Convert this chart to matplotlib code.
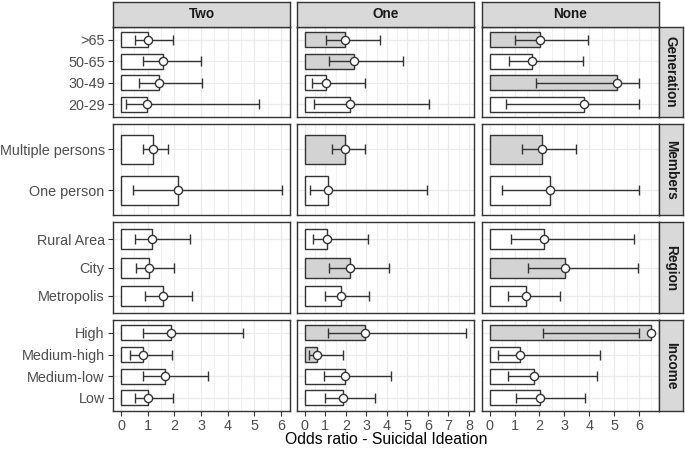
import matplotlib
matplotlib.use("Agg")
import matplotlib.pyplot as plt
import numpy as np

plt.rcParams['font.family'] = ['Liberation Sans', 'DejaVu Sans']

# ---------------- data ----------------
columns = ["Two", "One", "None"]
groups = ["Generation", "Members", "Region", "Income"]
categories = [">65", "50-65", "30-49", "20-29",
              "Multiple persons", "One person",
              "Rural Area", "City", "Metropolis",
              "High", "Medium-high", "Medium-low", "Low"]
group_of = ["Generation"] * 4 + ["Members"] * 2 + ["Region"] * 3 + ["Income"] * 4

or_two = [1.00, 1.58, 1.43, 0.98, 1.20, 2.15, 1.17, 1.06, 1.57, 1.88, 0.84, 1.64, 1.02]
lo_two = [0.53, 0.84, 0.68, 0.20, 0.84, 0.43, 0.53, 0.57, 0.91, 0.82, 0.35, 0.84, 0.53]
hi_two = [1.94, 3.00, 3.02, 5.16, 1.75, 6.03, 2.59, 1.98, 2.66, 4.56, 1.91, 3.26, 1.95]
sig_two = [0, 0, 0, 0, 0, 0, 0, 0, 0, 0, 0, 0, 0]

or_one = [1.96, 2.40, 1.02, 2.19, 1.96, 1.14, 1.09, 2.21, 1.75, 2.92, 0.59, 1.95, 1.84]
lo_one = [1.02, 1.19, 0.36, 0.44, 1.33, 0.28, 0.39, 1.20, 0.99, 1.14, 0.23, 0.94, 0.98]
hi_one = [3.67, 4.81, 2.92, 6.06, 2.92, 5.94, 3.08, 4.12, 3.12, 7.84, 1.85, 4.20, 3.42]
sig_one = [1, 1, 0, 0, 1, 0, 0, 1, 0, 1, 1, 0, 0]

or_none = [2.01, 1.69, 5.12, 3.80, 2.10, 2.42, 2.20, 3.04, 1.45, 6.47, 1.22, 1.77, 2.01]
lo_none = [1.02, 0.79, 1.87, 0.67, 1.30, 0.50, 0.86, 1.54, 0.74, 2.15, 0.32, 0.74, 1.05]
hi_none = [3.95, 3.75, 6.01, 6.01, 3.47, 6.01, 5.81, 5.96, 2.83, 6.00, 4.44, 4.32, 3.85]
sig_none = [1, 0, 1, 0, 1, 0, 0, 1, 0, 1, 0, 0, 0]

x_ticks = {"Two": list(range(0, 7)), "One": list(range(0, 9)), "None": list(range(0, 7))}
x_title = "Odds ratio - Suicidal Ideation"

series = {
    "Two": (or_two, lo_two, hi_two, sig_two),
    "One": (or_one, lo_one, hi_one, sig_one),
    "None": (or_none, lo_none, hi_none, sig_none),
}

# ---------------- layout (pixels) ----------------
W, H = 685, 453
fig = plt.figure(figsize=(W / 100, H / 100), dpi=100)
fig.patch.set_facecolor("white")

col_left = [113, 296.7, 481.7]
col_w = 177
row_top0 = 26.7
row_h = 90.75
row_gap = 7.0
strip_h = 24.5
rstrip_w = 24.3

dark = "#333333"
grid_c = "#EBEBEB"
gray_fill = "#D3D3D3"
txt_c = "#4D4D4D"


def px_axes(x, y_top, w, h):
    return fig.add_axes([x / W, 1 - (y_top + h) / H, w / W, h / H])


for ci, col in enumerate(columns):
    vals, los, his, sigs = series[col]
    xmax = max(max(vals), max(his))
    pad = 0.05 * xmax
    xlim = (-pad, xmax + pad)
    for gi, grp in enumerate(groups):
        idx = [i for i, g in enumerate(group_of) if g == grp]
        n = len(idx)
        top = row_top0 + gi * (row_h + row_gap)
        ax = px_axes(col_left[ci], top, col_w, row_h)
        ax.set_facecolor("white")
        ypos = [n - k for k in range(n)]
        ax.set_xlim(*xlim)
        ax.set_ylim(0.4, n + 0.6)
        ticks = x_ticks[col]
        for t in ticks:
            ax.axvline(t, color=grid_c, lw=0.9, zorder=0)
            if t + 0.5 < xlim[1]:
                ax.axvline(t + 0.5, color=grid_c, lw=0.5, zorder=0)
        for yp in ypos:
            ax.axhline(yp, color=grid_c, lw=0.9, zorder=0)
        for k, i in enumerate(idx):
            fc = gray_fill if sigs[i] else "white"
            ax.barh(ypos[k], vals[i], height=0.7, left=0, color=fc,
                    edgecolor=dark, linewidth=1.0, zorder=2)
            ax.plot([los[i], his[i]], [ypos[k], ypos[k]], color=dark,
                    lw=1.0, zorder=3, solid_capstyle="butt")
            ax.plot([los[i], his[i]], [ypos[k], ypos[k]], ls="none",
                    marker="|", ms=7.2, mew=1.0, color=dark, zorder=3)
            ax.plot([vals[i]], [ypos[k]], marker="o", ms=5.9, mfc="white",
                    mec=dark, mew=1.0, zorder=4, ls="none")
        for s in ax.spines.values():
            s.set_color(dark)
            s.set_linewidth(1.0)
        ax.tick_params(axis="both", colors=dark, length=3.5, width=0.8,
                       labelcolor=txt_c, labelsize=10.4, pad=2.5)
        ax.set_xticks(ticks)
        if gi == len(groups) - 1:
            ax.set_xticklabels([str(t) for t in ticks])
        else:
            ax.set_xticklabels([])
            ax.tick_params(axis="x", length=0)
        ax.set_yticks(ypos)
        if ci == 0:
            ax.set_yticklabels([categories[i] for i in idx])
        else:
            ax.set_yticklabels([])
            ax.tick_params(axis="y", length=0)

        if ci == len(columns) - 1:
            sax = px_axes(col_left[ci] + col_w, top, rstrip_w, row_h)
            sax.set_facecolor("#D9D9D9")
            sax.set_xticks([]); sax.set_yticks([])
            for s in sax.spines.values():
                s.set_color(dark); s.set_linewidth(1.0)
            sax.text(0.5, 0.5, grp, rotation=-90, ha="center", va="center",
                     fontsize=9.8, fontweight="bold", color="#1A1A1A",
                     transform=sax.transAxes)

    tax = px_axes(col_left[ci], row_top0 - strip_h, col_w, strip_h)
    tax.set_facecolor("#D9D9D9")
    tax.set_xticks([]); tax.set_yticks([])
    for s in tax.spines.values():
        s.set_color(dark); s.set_linewidth(1.0)
    tax.text(0.5, 0.5, col, ha="center", va="center", fontsize=9.8,
             fontweight="bold", color="#1A1A1A", transform=tax.transAxes)

center_x = (col_left[0] + col_left[-1] + col_w) / 2
fig.text(center_x / W, 1 - 440 / H, x_title, ha="center", va="center",
         fontsize=11.3, color="black")

fig.savefig("out.png", dpi=100, facecolor="white")
